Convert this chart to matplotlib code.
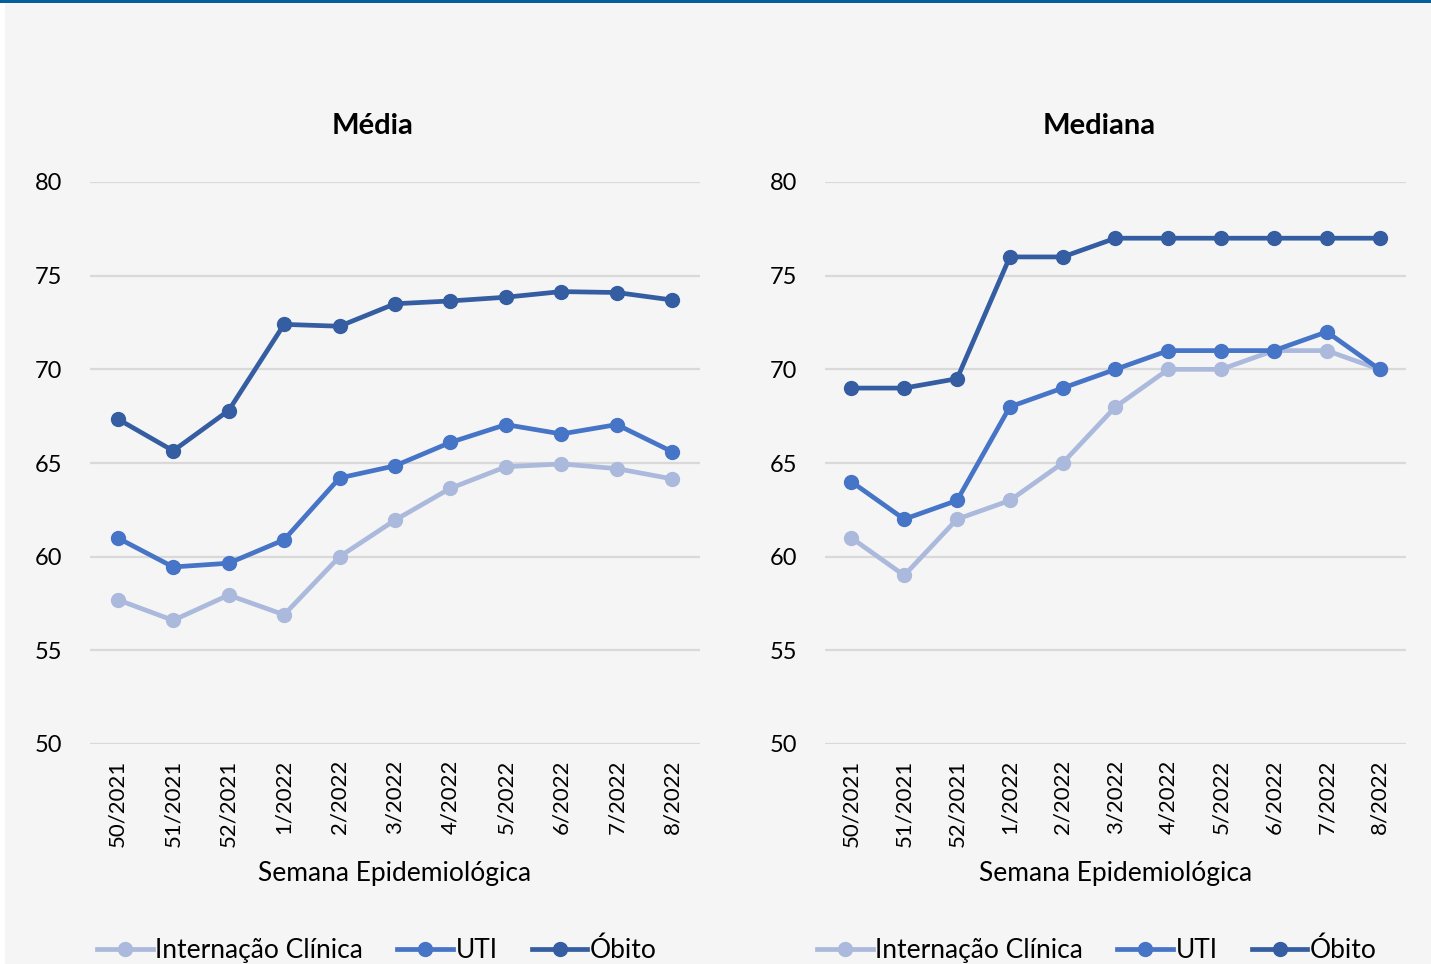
import matplotlib.pyplot as plt
from matplotlib.patches import Rectangle

plt.rcParams['font.family'] = ['Lato', 'DejaVu Sans']

semanas = ['50/2021', '51/2021', '52/2021', '1/2022', '2/2022', '3/2022',
           '4/2022', '5/2022', '6/2022', '7/2022', '8/2022']
series = ['Internação Clínica', 'UTI', 'Óbito']

media_internacao = [57.7, 56.6, 57.95, 56.9, 60.0, 61.95, 63.65, 64.8, 64.95, 64.7, 64.15]
media_uti = [61.0, 59.45, 59.65, 60.9, 64.2, 64.85, 66.1, 67.05, 66.55, 67.05, 65.6]
media_obito = [67.35, 65.65, 67.8, 72.4, 72.3, 73.5, 73.65, 73.85, 74.15, 74.1, 73.7]

mediana_internacao = [61, 59, 62, 63, 65, 68, 70, 70, 71, 71, 70]
mediana_uti = [64, 62, 63, 68, 69, 70, 71, 71, 71, 72, 70]
mediana_obito = [69, 69, 69.5, 76, 76, 77, 77, 77, 77, 77, 77]

cores = ['#abb9dc', '#4674c6', '#345da2']

W, H = 1431, 964
fig = plt.figure(figsize=(W / 100, H / 100), dpi=100)
fig.patch.set_facecolor('white')
fig.add_artist(Rectangle((5 / W, 0), 1 - 5 / W, 1 - 3 / H, transform=fig.transFigure,
                         facecolor='#f5f5f5', edgecolor='none', zorder=-10))
fig.add_artist(Rectangle((0, 1 - 3 / H), 1, 3 / H, transform=fig.transFigure,
                         facecolor='#00609c', edgecolor='none', zorder=-9))


def painel(x0, x1, titulo, dados, titulo_x, legenda_x):
    ax = fig.add_axes([x0 / W, 1 - 744 / H, (x1 - x0) / W, (744 - 182) / H])
    ax.set_facecolor('none')
    x = range(len(semanas))
    for vals, nome, cor in zip(dados, series, cores):
        ax.plot(x, vals, color=cor, lw=3.4, marker='o', ms=10, label=nome)
    ax.set_ylim(50, 80)
    ax.set_xlim(-0.5, len(semanas) - 0.5)
    ax.set_yticks(range(50, 81, 5))
    ax.set_xticks(list(x))
    ax.set_xticklabels(semanas, rotation=90)
    ax.tick_params(axis='both', length=0, colors='black')
    ax.tick_params(axis='y', pad=20, labelsize=17)
    ax.tick_params(axis='x', labelsize=16, pad=11)
    ax.grid(axis='y', color='#d9d9d9', lw=1.6)
    ax.set_axisbelow(True)
    for s in ax.spines.values():
        s.set_visible(False)
    fig.text(titulo_x / W, 1 - 126 / H, titulo, fontsize=21, fontweight='bold',
             ha='center', va='center')
    fig.text((x0 + x1) / 2 / W, 1 - 873 / H, 'Semana Epidemiológica', fontsize=19,
             ha='center', va='center')
    ax.legend(loc='center', bbox_to_anchor=(legenda_x / W, 1 - 950 / H),
              bbox_transform=fig.transFigure, ncol=3, frameon=False,
              fontsize=19, handlelength=2.1, handletextpad=0.1, columnspacing=1.3,
              borderpad=0, borderaxespad=0)
    return ax


painel(90, 700, 'Média', [media_internacao, media_uti, media_obito], 373, 377)
painel(825, 1406, 'Mediana', [mediana_internacao, mediana_uti, mediana_obito], 1099, 1097)

fig.savefig('out.png', dpi=100)
